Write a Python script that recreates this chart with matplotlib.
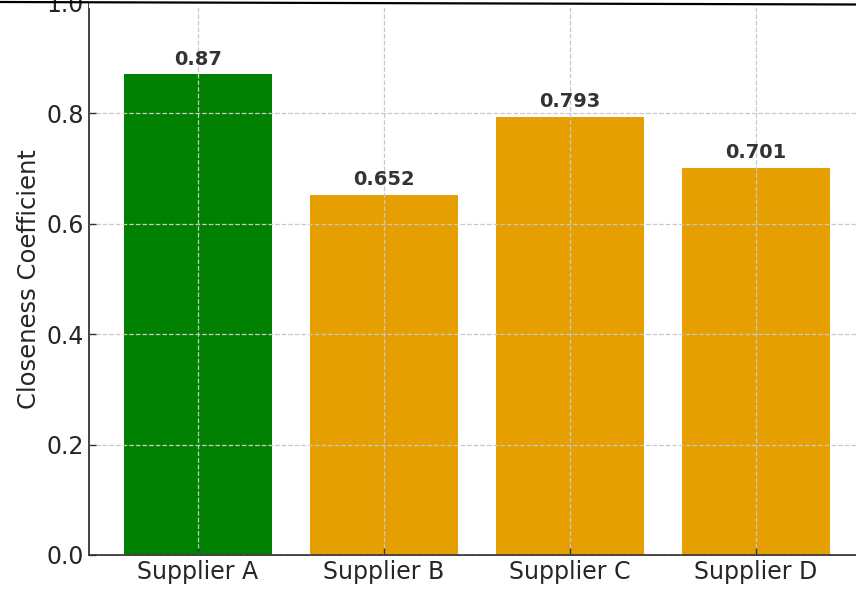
import matplotlib.pyplot as plt
from matplotlib.lines import Line2D
from matplotlib.patches import Rectangle

# datos
suppliers = ['Supplier A', 'Supplier B', 'Supplier C', 'Supplier D']
closeness = [0.870, 0.652, 0.793, 0.701]
bar_colors = ['#008000', '#E69F00', '#E69F00', '#E69F00']

fig = plt.figure(figsize=(8.56, 5.90), dpi=100)
ax = fig.add_axes([89 / 856, 35 / 590, (856 - 89) / 856, 552.5 / 590])

x = range(len(suppliers))
ax.bar(x, closeness, width=0.8, color=bar_colors, zorder=1)

for i, v in zip(x, closeness):
    ax.text(i, v + 0.01, str(round(v, 3)), ha='center', va='bottom',
            fontsize=14, fontweight='bold', color='#333333', zorder=3)

ax.set_xticks(list(x))
ax.set_xticklabels(suppliers)
ax.set_xlim(-0.586, 3.538)
ax.set_ylim(0, 1.0)
ax.set_yticks([0.0, 0.2, 0.4, 0.6, 0.8, 1.0])
ax.set_ylabel('Closeness Coefficient', fontsize=17.5, color='#262626', labelpad=4)

ax.tick_params(axis='both', labelsize=17, labelcolor='#262626', direction='in',
               length=5, width=1, color='#333333')
ax.grid(True, linestyle='--', color='#c8c8c8', linewidth=0.9, zorder=2)
ax.set_axisbelow(False)

for s in ['top', 'right']:
    ax.spines[s].set_visible(False)
for s in ['left', 'bottom']:
    ax.spines[s].set_color('#333333')
    ax.spines[s].set_linewidth(1.3)

# franja blanca y linea negra arriba del recorte
fig.add_artist(Rectangle((89 / 856, 1 - 8 / 590), 1, 8 / 590, transform=fig.transFigure,
                         facecolor='white', edgecolor='none', zorder=5))
fig.add_artist(Line2D([0, 1], [1 - 2 / 590, 1 - 4.5 / 590], transform=fig.transFigure,
                      color='black', linewidth=1.6, zorder=6))

fig.savefig('out.png', dpi=100)
